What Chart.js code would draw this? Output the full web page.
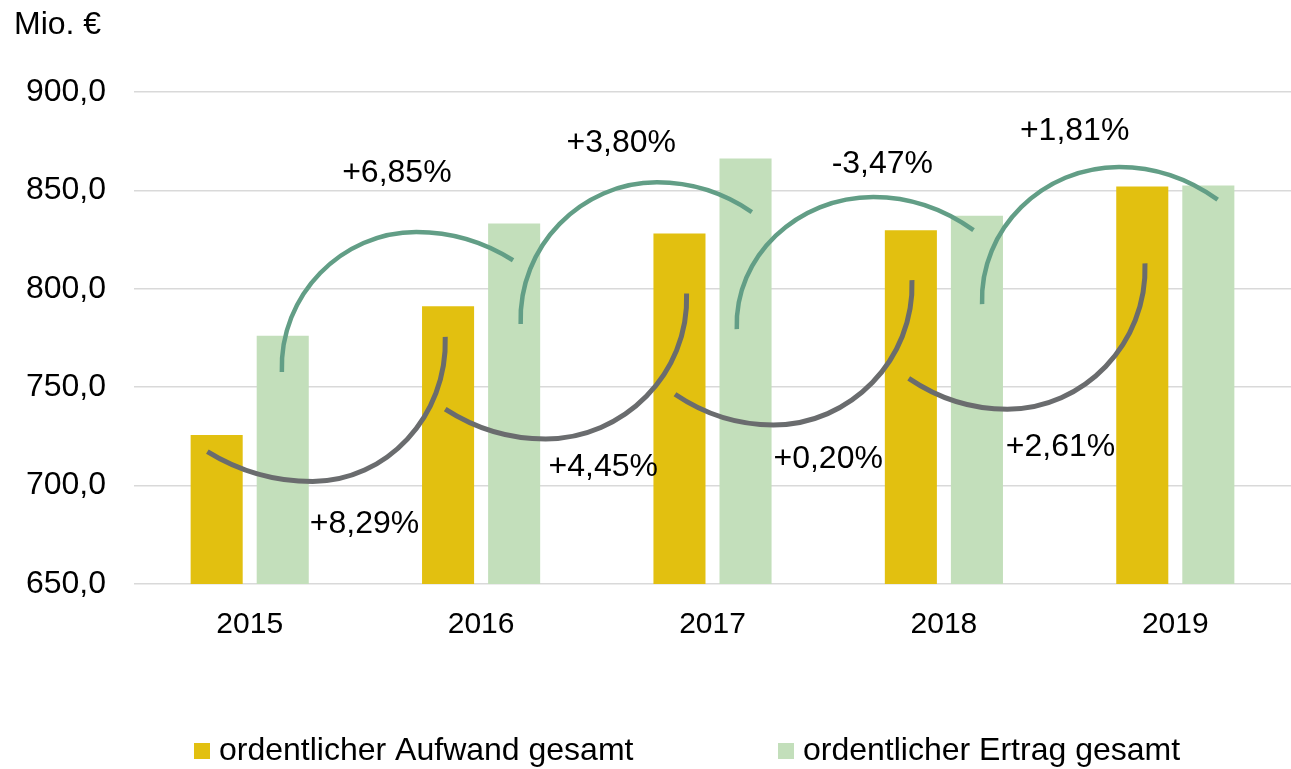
<!doctype html>
<html lang="de">
  <head>
    <meta charset="utf-8">
    <title>Ordentlicher Aufwand und Ertrag</title>
    <style>
      * { margin: 0; padding: 0; }
      body { background: #fff; }
      .chartBox { width: 1291px; height: 769px; }
    </style>
  </head>
  <body>
    <div class="chartBox">
      <canvas id="myChart"></canvas>
    </div>
    <script src="https://cdn.jsdelivr.net/npm/chart.js/dist/chart.umd.min.js"></script>
    <script>
    // data
    const years = ['2015', '2016', '2017', '2018', '2019']
    const aufwand = [725.7, 791.1, 828.1, 829.8, 852.0]
    const ertrag = [776.1, 833.2, 866.2, 837.1, 852.5]
    const yMin = 650
    const yMax = 900
    const yStep = 50

    const ertragChanges = ['+6,85%', '+3,80%', '-3,47%', '+1,81%']
    const aufwandChanges = ['+8,29%', '+4,45%', '+0,20%', '+2,61%']

    // arc anchors in data units [category position, value]: start, apex, end
    const ertragArcs = [
      [[0.139, 757.7], [0.720, 828.9], [1.138, 814.5]],
      [[1.171, 782.1], [1.760, 854.1], [2.170, 839.0]],
      [[2.105, 779.5], [2.695, 846.7], [3.128, 829.8]],
      [[3.165, 792.2], [3.757, 861.9], [4.183, 845.3]],
    ]
    const aufwandArcs = [
      [[-0.183, 717.3], [0.272, 702.1], [0.845, 775.6]],
      [[0.845, 738.9], [1.279, 723.7], [1.888, 797.6]],
      [[1.838, 746.4], [2.263, 730.8], [2.862, 804.4]],
      [[2.848, 754.5], [3.274, 738.8], [3.869, 812.9]],
    ]
    const ertragLabelPos = [[0.636, 859.0], [1.606, 874.2], [2.734, 863.1], [3.565, 880.3]]
    const aufwandLabelPos = [[0.496, 680.4], [1.528, 709.3], [2.500, 713.4], [3.504, 719.5]]

    const FAMILY = '"Liberation Sans", Arial, sans-serif'
    const FONT = '32px ' + FAMILY
    const K = 0.552

    const arcPlugin = {
      id: 'arcPlugin',
      afterDatasetsDraw(chart) {
        const { ctx, scales: { x, y } } = chart
        const px = p => ({ x: x.getPixelForValue(p[0]), y: y.getPixelForValue(p[1]) })
        ctx.save()
        ctx.lineCap = 'butt'

        // green arcs (Ertrag), bulging upwards
        ctx.strokeStyle = '#629E86'
        ctx.lineWidth = 4.5
        ertragArcs.forEach(a => {
          const S = px(a[0]), A = px(a[1]), E = px(a[2])
          ctx.beginPath()
          ctx.moveTo(S.x, S.y)
          ctx.bezierCurveTo(S.x - 0.02 * (A.x - S.x), S.y - K * (S.y - A.y), A.x - K * (A.x - S.x), A.y, A.x, A.y)
          ctx.bezierCurveTo(A.x + 0.35 * (E.x - A.x), A.y, E.x - 0.3 * (E.x - A.x), E.y - 0.65 * (E.y - A.y), E.x, E.y)
          ctx.stroke()
        })

        // grey arcs (Aufwand), bulging downwards
        ctx.strokeStyle = '#6A6C6E'
        ctx.lineWidth = 5
        aufwandArcs.forEach(a => {
          const S = px(a[0]), B = px(a[1]), E = px(a[2])
          ctx.beginPath()
          ctx.moveTo(S.x, S.y)
          ctx.bezierCurveTo(S.x + 0.3 * (B.x - S.x), S.y + 0.65 * (B.y - S.y), B.x - 0.35 * (B.x - S.x), B.y, B.x, B.y)
          ctx.bezierCurveTo(B.x + K * (E.x - B.x), B.y, E.x + 0.02 * (E.x - B.x), E.y + K * (B.y - E.y), E.x, E.y)
          ctx.stroke()
        })

        // percentage labels
        ctx.fillStyle = '#000'
        ctx.font = FONT
        ctx.textAlign = 'center'
        ctx.textBaseline = 'middle'
        ertragChanges.forEach((t, i) => {
          const p = px(ertragLabelPos[i])
          ctx.fillText(t, p.x, p.y)
        })
        aufwandChanges.forEach((t, i) => {
          const p = px(aufwandLabelPos[i])
          ctx.fillText(t, p.x, p.y)
        })
        ctx.restore()
      },
      afterDraw(chart) {
        const { ctx } = chart
        ctx.save()
        ctx.font = FONT
        ctx.fillStyle = '#000'
        ctx.textBaseline = 'middle'
        ctx.textAlign = 'left'
        // unit label
        ctx.fillText('Mio. €', 14, 25)

        // legend
        const legendX = [194, 778]
        chart.data.datasets.forEach((ds, i) => {
          ctx.fillStyle = ds.backgroundColor
          ctx.fillRect(legendX[i], 743, 16, 16)
          ctx.fillStyle = '#000'
          ctx.fillText(ds.label, legendX[i] + 25, 751)
        })
        ctx.restore()
      }
    }

    const data = {
      labels: years,
      datasets: [
        {
          label: 'ordentlicher Aufwand gesamt',
          data: aufwand,
          backgroundColor: '#E2C010',
          categoryPercentage: 0.571,
          barPercentage: 0.788,
        },
        {
          label: 'ordentlicher Ertrag gesamt',
          data: ertrag,
          backgroundColor: '#C3DFBB',
          categoryPercentage: 0.571,
          barPercentage: 0.788,
        },
      ]
    }

    const config = {
      type: 'bar',
      data,
      options: {
        responsive: true,
        maintainAspectRatio: false,
        animation: false,
        layout: {
          padding: { top: 92, left: 0, right: 0, bottom: 125 }
        },
        plugins: {
          legend: { display: false },
          tooltip: { enabled: false },
          title: { display: false },
        },
        scales: {
          x: {
            grid: { display: false },
            border: { display: false },
            afterFit: scale => { scale.height = 60 },
            ticks: {
              color: '#000',
              font: { family: FAMILY, size: 30 },
              padding: 15,
            }
          },
          y: {
            min: yMin,
            max: yMax,
            border: { display: false },
            grid: { color: '#D9D9D9', lineWidth: 1.5, drawTicks: false },
            afterFit: scale => { scale.width = 134 },
            ticks: {
              stepSize: yStep,
              color: '#000',
              padding: 28,
              font: { family: FAMILY, size: 32 },
              callback: v => v.toFixed(1).replace('.', ',')
            }
          }
        }
      },
      plugins: [arcPlugin]
    }

    const myChart = new Chart(document.getElementById('myChart'), config)
    </script>
  </body>
</html>
